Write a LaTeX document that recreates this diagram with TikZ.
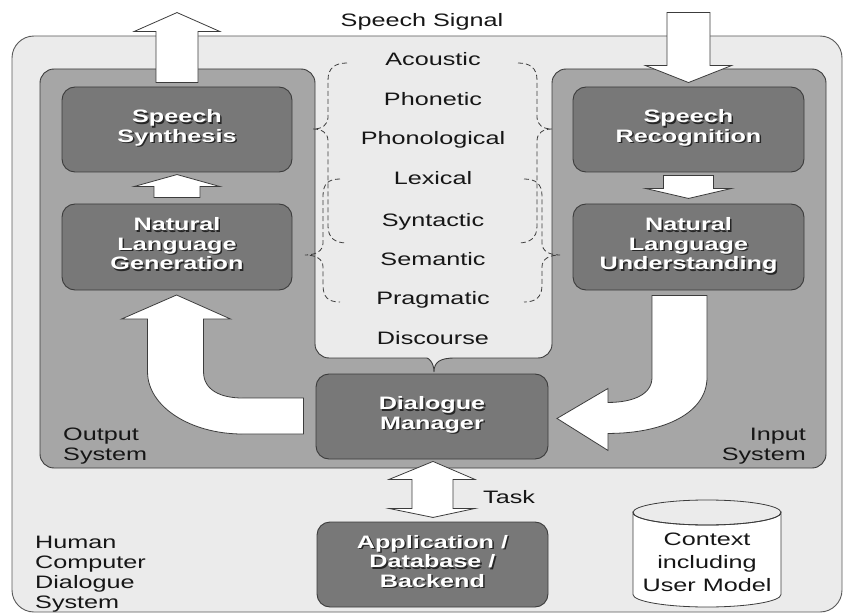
\documentclass[tikz,border=0pt]{standalone}
\usepackage{fontspec}
\setmainfont{Liberation Sans}[FakeStretch=1.4]
\usetikzlibrary{calc}
\definecolor{bgc}{HTML}{EBEBEB}
\definecolor{grayc}{HTML}{A6A6A6}
\definecolor{boxc}{HTML}{787878}
\definecolor{edgec}{HTML}{3C3C3C}
\definecolor{txtc}{HTML}{161616}
\newcommand\shtxt[1]{\leavevmode\rlap{\hspace{1.5pt}\raisebox{-1.5pt}{\color{black!85}\begin{tabular}[b]{@{}c@{}}#1\end{tabular}}}{\color{white}\begin{tabular}[b]{@{}c@{}}#1\end{tabular}}}
\begin{document}
\begin{tikzpicture}[x=1pt,y=-1pt,
  box/.style={draw=edgec, fill=boxc, line width=0.9pt, rounded corners=13pt, minimum width=230pt, minimum height=85pt, inner sep=0pt, font=\fontsize{18}{19.5}\selectfont\bfseries},
  fat/.style={draw=edgec, fill=white, line width=0.8pt, line join=miter},
  brc/.style={draw=edgec, line width=0.8pt, dash pattern=on 5pt off 3pt},
  lbl/.style={inner sep=0pt, text=txtc, font=\fontsize{18}{20}\selectfont}]
\useasboundingbox (0,0) rectangle (844,615);
% outer system
\node[draw=edgec!85, fill=bgc, line width=0.9pt, rounded corners=22pt, minimum width=830pt, minimum height=576pt, inner sep=0pt] (sys) at (427,324) {};
% gray input/output region
\path[draw=edgec, fill=grayc, line width=0.9pt] [rounded corners=14pt] (40,69) -- (315,69) -- (315,358) -- (413,358) [sharp corners] .. controls (428,358) and (434,362) .. (434,372) .. controls (434,362) and (440,358) .. (455,358) [rounded corners=14pt] -- (552,358) -- (552,69) -- (826,69) -- (826,468) -- (40,468) -- cycle;
% dashed braces
\draw[brc] (347,63) .. controls (335,63) and (328,68) .. (328,80) -- (328,117) .. controls (328,125) and (322,129) .. (313,129) .. controls (322,129) and (328,133) .. (328,141) -- (328,226) .. controls (328,238) and (335,243) .. (347,243);
\draw[brc] (340,179) .. controls (328,179) and (323,184) .. (323,196) -- (323,243) .. controls (323,251) and (316,255) .. (305,255) .. controls (316,255) and (323,259) .. (323,267) -- (323,285) .. controls (323,297) and (328,302) .. (340,302);
\draw[brc] (518,63) .. controls (530,63) and (537,68) .. (537,80) -- (537,117) .. controls (537,125) and (543,129) .. (552,129) .. controls (543,129) and (537,133) .. (537,141) -- (537,226) .. controls (537,238) and (530,243) .. (518,243);
\draw[brc] (524,179) .. controls (536,179) and (542,184) .. (542,196) -- (542,243) .. controls (542,251) and (549,255) .. (560,255) .. controls (549,255) and (542,259) .. (542,267) -- (542,285) .. controls (542,297) and (536,302) .. (524,302);
% boxes
\node[box] (ss) at (177,129.5) {\shtxt{Speech\\Synthesis}};
\node[box, minimum height=86pt] (nlg) at (177,247) {\shtxt{Natural\\Language\\Generation}};
\node[box, minimum width=231pt] (sr) at (688.5,129.5) {\shtxt{Speech\\Recognition}};
\node[box, minimum width=231pt, minimum height=86pt] (nlu) at (688.5,247) {\shtxt{Natural\\Language\\Understanding}};
\node[box, minimum width=232pt] (dm) at (432,416.5) {\shtxt{Dialogue\\Manager}};
\node[box, minimum width=231pt] (app) at (432.5,564.5) {\shtxt{Application /\\Database /\\Backend}};
% fat arrows
\draw[fat] ($(ss.north)+(-21,-4)$) -- ++(0,-51) -- ++(-22,0) -- ++(43,-19) -- ++(43,19) -- ++(-22,0) -- ++(0,51) -- cycle;
\draw[fat] ($(sr.north)+(0,-4)$) -- ++(-43,-17) -- ++(21.5,0) -- ++(0,-53) -- ++(43,0) -- ++(0,53) -- ++(21.5,0) -- cycle;
\draw[fat] ($(nlg.north)+(-23,-6)$) -- ++(0,-11) -- ++(-20,0) -- ++(43,-12) -- ++(43,12) -- ++(-20,0) -- ++(0,11) -- cycle;
\draw[fat] ($(sr.south)+(-25,3)$) -- ++(0,13) -- ++(-18,0) -- ++(43,10) -- ++(43,-10) -- ++(-18,0) -- ++(0,-13) -- cycle;
\draw[fat] ($(dm.west)+(-12,-18.5)$) -- ++(-61,0)
  .. controls +(-22,0) and +(0,18) .. ++(-39,-26)
  -- ++(0,-53) -- ++(27,0) -- ++(-54,-24) -- ++(-55,24) -- ++(26,0) -- ++(0,53)
  .. controls +(0,34) and +(-53,0) .. ++(95,62)
  -- ++(61,0) -- cycle;
\draw[fat] ($(nlu.south)+(-36.5,5)$) -- ++(0,82)
  .. controls +(0,17) and +(25,0) .. ++(-44,25)
  -- ++(0,-14) -- ++(-51,30) -- ++(51,32) -- ++(0,-17)
  .. controls +(57,0) and +(0,35) .. ++(99,-56)
  -- ++(0,-82) -- cycle;
\draw[fat] ($(dm.south)+(1,2)$) -- ++(42,18) -- ++(-22,0) -- ++(0,29) -- ++(22,0) -- ++(-42,9) -- ++(-44,-9) -- ++(23,0) -- ++(0,-29) -- ++(-23,0) -- cycle;
% context cylinder
\draw[draw=edgec, fill=white, line width=0.8pt] (633,512.5) -- (633,594.5) arc[start angle=180, end angle=0, x radius=74, y radius=12.5] -- (781,512.5) arc[start angle=0, end angle=180, x radius=74, y radius=12.5] -- cycle;
\draw[draw=edgec, line width=0.8pt] (707,512.5) ellipse[x radius=74, y radius=12.5];
\node[lbl, align=center, font=\fontsize{18}{23}\selectfont] (ctx) at (707,562) {Context\\including\\User Model};
% labels
\node[lbl, anchor=base] (sig) at (422,27) {Speech Signal};
\node[lbl, anchor=base] (l1) at (433,66) {Acoustic};
\node[lbl, anchor=base] (l2) at (433,106) {Phonetic};
\node[lbl, anchor=base] (l3) at (433,145) {Phonological};
\node[lbl, anchor=base] (l4) at (433,185) {Lexical};
\node[lbl, anchor=base] (l5) at (433,226) {Syntactic};
\node[lbl, anchor=base] (l6) at (433,265) {Semantic};
\node[lbl, anchor=base] (l7) at (433,304) {Pragmatic};
\node[lbl, anchor=base] (l8) at (433,344) {Discourse};
\node[lbl, align=left, anchor=west] (outl) at (63,446) {Output\\System};
\node[lbl, align=right, anchor=east] (inl) at (806,446) {Input\\System};
\node[lbl, align=left, anchor=west] (hcds) at (35,574) {Human\\Computer\\Dialogue\\System};
\node[lbl, anchor=west] (task) at (483,497) {Task};
\end{tikzpicture}
\end{document}
